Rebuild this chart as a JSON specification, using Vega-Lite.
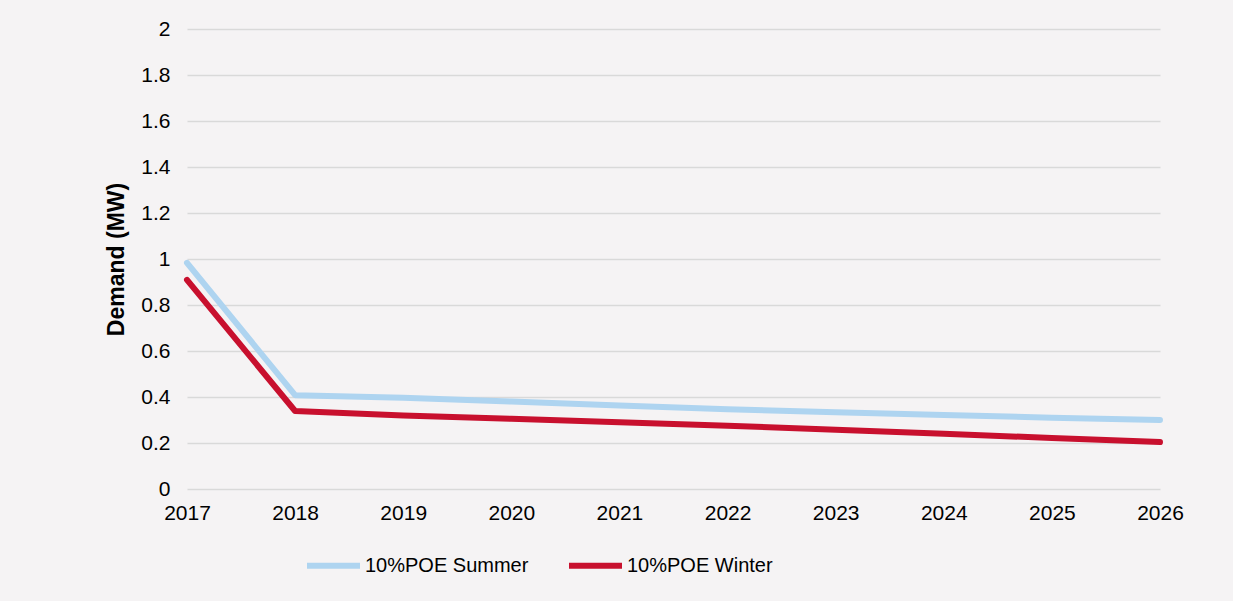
{
  "$schema": "https://vega.github.io/schema/vega-lite/v6.json",
  "width": 973,
  "height": 460,
  "autosize": "none",
  "padding": {"left": 187, "top": 29, "right": 73, "bottom": 112},
  "background": "#f5f3f4",
  "config": {
    "view": {"stroke": null},
    "font": "Liberation Sans"
  },
  "data": {
    "values": [
      {"year": 2017, "series": "10%POE Summer", "demand": 0.983},
      {"year": 2018, "series": "10%POE Summer", "demand": 0.408},
      {"year": 2019, "series": "10%POE Summer", "demand": 0.397},
      {"year": 2020, "series": "10%POE Summer", "demand": 0.38},
      {"year": 2021, "series": "10%POE Summer", "demand": 0.363},
      {"year": 2022, "series": "10%POE Summer", "demand": 0.347},
      {"year": 2023, "series": "10%POE Summer", "demand": 0.334},
      {"year": 2024, "series": "10%POE Summer", "demand": 0.322},
      {"year": 2025, "series": "10%POE Summer", "demand": 0.31},
      {"year": 2026, "series": "10%POE Summer", "demand": 0.3},
      {"year": 2017, "series": "10%POE Winter", "demand": 0.909},
      {"year": 2018, "series": "10%POE Winter", "demand": 0.339},
      {"year": 2019, "series": "10%POE Winter", "demand": 0.32},
      {"year": 2020, "series": "10%POE Winter", "demand": 0.305},
      {"year": 2021, "series": "10%POE Winter", "demand": 0.29},
      {"year": 2022, "series": "10%POE Winter", "demand": 0.275},
      {"year": 2023, "series": "10%POE Winter", "demand": 0.258},
      {"year": 2024, "series": "10%POE Winter", "demand": 0.24},
      {"year": 2025, "series": "10%POE Winter", "demand": 0.222},
      {"year": 2026, "series": "10%POE Winter", "demand": 0.204}
    ]
  },
  "mark": {"type": "line", "strokeWidth": 6, "strokeCap": "round", "strokeJoin": "round"},
  "encoding": {
    "x": {
      "field": "year",
      "type": "quantitative",
      "scale": {"domain": [2017, 2026], "nice": false, "zero": false},
      "axis": {
        "title": null,
        "values": [2017, 2018, 2019, 2020, 2021, 2022, 2023, 2024, 2025, 2026],
        "format": "d",
        "grid": false,
        "domain": false,
        "ticks": false,
        "labelFontSize": 21,
        "labelColor": "#000000",
        "labelPadding": 13,
        "labelFlush": false
      }
    },
    "y": {
      "field": "demand",
      "type": "quantitative",
      "scale": {"domain": [0, 2], "nice": false},
      "axis": {
        "title": "Demand (MW)",
        "titleFontSize": 23,
        "titleFontWeight": "bold",
        "titleColor": "#000000",
        "titlePadding": 12,
        "values": [0, 0.2, 0.4, 0.6, 0.8, 1, 1.2, 1.4, 1.6, 1.8, 2],
        "labelExpr": "datum.value == 0 ? '0' : format(datum.value, '.1~f')",
        "labelFontSize": 21,
        "labelColor": "#000000",
        "labelPadding": 17,
        "domain": false,
        "ticks": false,
        "grid": true,
        "gridColor": "#d9d9d9",
        "gridWidth": 1.5
      }
    },
    "color": {
      "field": "series",
      "type": "nominal",
      "scale": {"domain": ["10%POE Summer", "10%POE Winter"], "range": ["#aed4f0", "#c8102e"]},
      "legend": {
        "title": null,
        "orient": "none",
        "legendX": 117,
        "legendY": 507,
        "direction": "horizontal",
        "symbolType": "stroke",
        "symbolSize": 2809,
        "symbolStrokeWidth": 6,
        "labelFontSize": 20,
        "labelLimit": 400,
        "labelColor": "#000000",
        "labelOffset": 2,
        "columnPadding": 28
      }
    }
  }
}
